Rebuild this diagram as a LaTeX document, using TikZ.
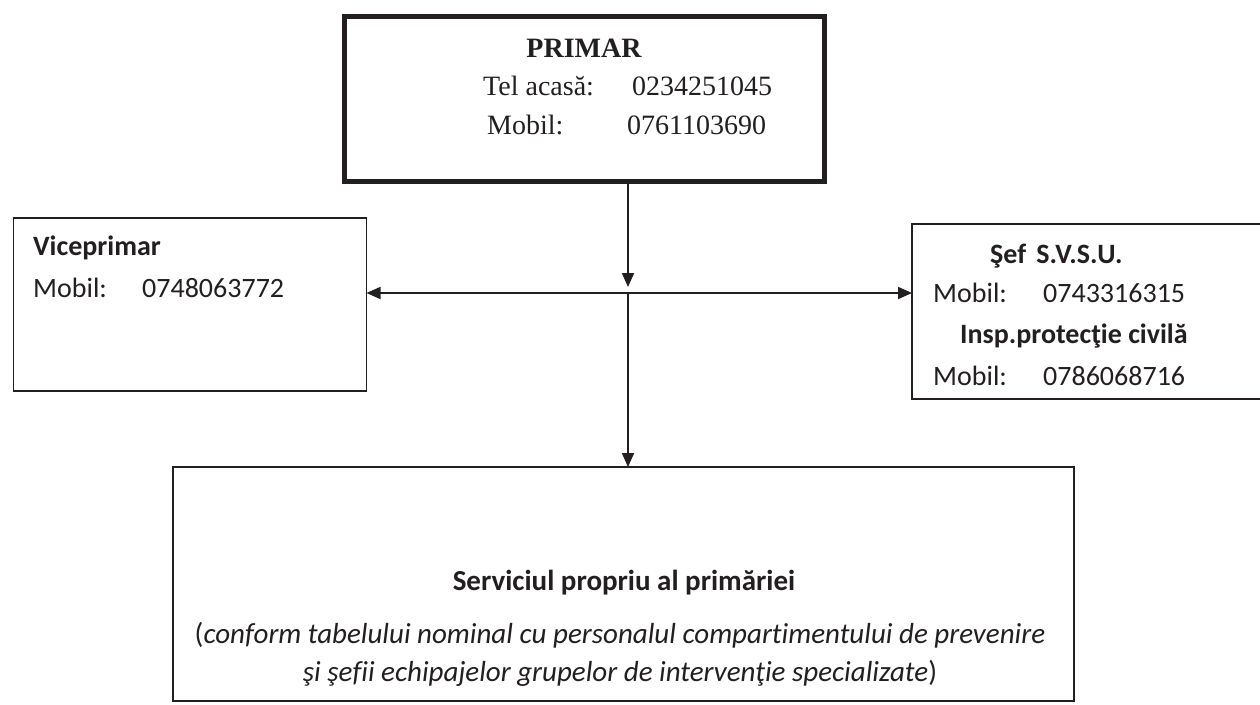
\documentclass[tikz,border=0pt]{standalone}
\usepackage{fontspec}
\setmainfont{Liberation Serif}
\newfontfamily\calib[Ligatures=NoCommon]{Carlito}
\usetikzlibrary{arrows.meta}
\definecolor{ink}{HTML}{231F20}
\begin{document}
\begin{tikzpicture}[x=1pt,y=-1pt,
  box/.style={draw=ink, line width=1.6pt, inner sep=0pt, outer sep=0pt, rectangle},
  bigbox/.style={draw=ink, line width=5pt, inner sep=0pt, outer sep=0pt, rectangle},
  serif/.style={text=ink, font=\fontsize{28}{30}\selectfont, inner sep=0pt, anchor=base west},
  sans/.style={text=ink, font=\calib\fontsize{28}{30}\selectfont, inner sep=0pt, anchor=base west},
  sansb/.style={sans, font=\calib\bfseries\fontsize{28}{30}\selectfont},
  bsans/.style={text=ink, font=\calib\fontsize{29}{31}\selectfont, inner sep=0pt, anchor=base},
  arr/.style={draw=ink, line width=1.8pt, -{Triangle[length=14pt,width=12pt]}},
  darr/.style={draw=ink, line width=1.8pt, {Triangle[length=14pt,width=12pt]}-{Triangle[length=14pt,width=12pt]}},
  ]
\useasboundingbox[fill=white] (0,0) rectangle (1260,704);

% boxes
\node[bigbox, minimum width=479.5pt, minimum height=165.5pt] (primar) at (584.25,98.75) {};
\node[box, minimum width=353pt, minimum height=173pt] (vice) at (190,304.5) {};
\node[box, minimum width=368pt, minimum height=175pt] (sef) at (1096,311.5) {};
\node[box, minimum width=901pt, minimum height=234pt] (serv) at (623.5,584) {};

% PRIMAR texts
\node[serif, anchor=base, font=\bfseries\fontsize{28}{30}\selectfont] (pt1) at (584,57) {PRIMAR};
\node[serif] (pt2) at (483,95) {Tel acasă:};
\node[serif] (pt3) at (632,95) {0234251045};
\node[serif] (pt4) at (487,134) {Mobil:};
\node[serif] (pt5) at (627,134) {0761103690};

% Viceprimar texts
\node[sansb] (vt1) at (33,255) {Viceprimar};
\node[sans] (vt2) at (33,297) {Mobil:};
\node[sans] (vt3) at (142,297) {0748063772};

% Sef SVSU texts
\node[sansb] (st1) at (990,263) {Şef\hspace{4pt} S.V.S.U.};
\node[sans] (st2) at (933,302) {Mobil:};
\node[sans] (st3) at (1043,302) {0743316315};
\node[sansb] (st4) at (960,343) {Insp.protecţie civilă};
\node[sans] (st5) at (933,385) {Mobil:};
\node[sans] (st6) at (1043,385) {0786068716};

% Serviciul texts
\node[bsans, font=\calib\bfseries\fontsize{29}{31}\selectfont] (bt1) at (624,590) {Serviciul propriu al primăriei};
\node[bsans] (bt2) at (620,643) {(\textit{conform tabelului nominal cu personalul compartimentului de prevenire}};
\node[bsans] (bt3) at (620,681) {\textit{şi şefii echipajelor grupelor de intervenţie specializate})};

% connectors
\coordinate (j) at (628,293);
\coordinate (jt) at (628,287);
\draw[arr] (primar.south -| jt) -- (jt);
\draw[darr] (vice.east |- j) -- (sef.west |- j);
\draw[arr] (j) -- (serv.north -| j);
\end{tikzpicture}
\end{document}
